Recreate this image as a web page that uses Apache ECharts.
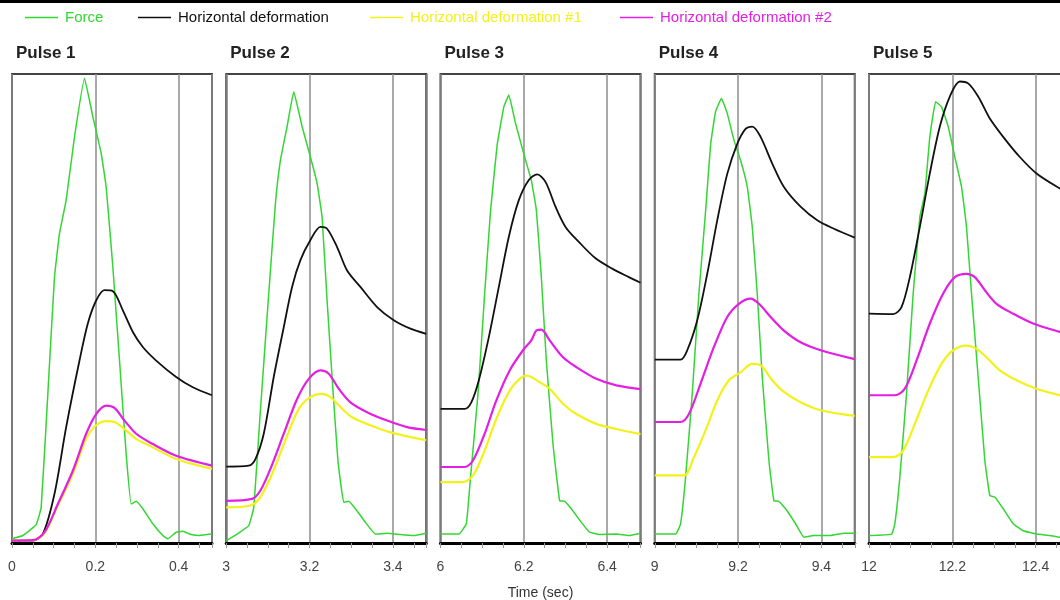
<!DOCTYPE html>
<html>
<head>
<meta charset="utf-8">
<script src="https://cdn.jsdelivr.net/npm/echarts@6/dist/echarts.min.js"></script>
<style>html,body{margin:0;padding:0;background:#fff;}#c{width:1060px;height:600px;}</style>
</head>
<body>
<div id="c"></div>
<script>
// ---- data (time in sec, relative amplitude 0-100) ----
const pulseTitles = ['Pulse 1','Pulse 2','Pulse 3','Pulse 4','Pulse 5'];
const pulseStarts = [0, 3, 6, 9, 12];
const pulseSpan = 0.48;
const seriesNames = ['Force','Horizontal deformation','Horizontal deformation #1','Horizontal deformation #2'];

const force1 = [[0,0.9],[0.026,1.6],[0.058,3.9],[0.07,7.6],[0.086,31.8],[0.102,56.7],[0.114,66],[0.13,73.1],[0.15,86.6],[0.174,99.1],[0.194,90.9],[0.214,83.1],[0.226,75.9],[0.242,58.9],[0.258,38.9],[0.274,19],[0.286,8.3],[0.298,8.9],[0.314,7.3],[0.338,4.1],[0.362,1.6],[0.374,0.9],[0.394,2.3],[0.41,2.5],[0.43,1.8],[0.45,1.6],[0.48,1.9]];
const horiz1 = [[0,0.5],[0.05,0.5],[0.074,1.9],[0.102,10.5],[0.13,24.7],[0.162,38.9],[0.182,46.8],[0.202,51.7],[0.222,53.9],[0.242,53.7],[0.266,49.6],[0.29,45],[0.314,41.8],[0.346,38.9],[0.394,35.4],[0.434,33.2],[0.48,31.5]];
const horizA1 = [[0,0.5],[0.05,0.6],[0.078,2.1],[0.11,8],[0.146,14.7],[0.178,22.2],[0.202,25.1],[0.226,26],[0.246,25.8],[0.27,24.3],[0.298,22.2],[0.338,20.4],[0.394,17.9],[0.48,15.8]];
const horizB1 = [[0,0.5],[0.05,0.6],[0.078,2.3],[0.11,8.3],[0.146,15.4],[0.178,23.3],[0.202,27.5],[0.226,29.3],[0.246,28.8],[0.27,26.1],[0.298,23.3],[0.338,21.1],[0.394,18.6],[0.48,16.5]];

const force2 = [[3,0.5],[3.026,1.9],[3.054,3.7],[3.066,7.6],[3.082,28.3],[3.102,53.2],[3.118,72.4],[3.13,81.6],[3.146,88.8],[3.162,96.2],[3.182,88.8],[3.202,82.3],[3.218,76.7],[3.23,69.5],[3.242,51.7],[3.254,35.4],[3.268,17.6],[3.282,8.7],[3.294,8.9],[3.31,7.3],[3.334,4.4],[3.358,1.9],[3.386,2.1],[3.418,1.8],[3.45,1.6],[3.48,2.1]];
const horiz2 = [[3,16.3],[3.054,16.5],[3.07,17.9],[3.09,23.3],[3.114,35.4],[3.138,46],[3.158,54.6],[3.178,60.3],[3.202,64.6],[3.226,67.4],[3.242,67],[3.266,63.1],[3.29,58.1],[3.322,54.6],[3.362,50.3],[3.402,47.5],[3.442,45.7],[3.48,44.6]];
const horizA2 = [[3,7.6],[3.058,8],[3.082,9.8],[3.11,14.7],[3.142,21.9],[3.174,28.6],[3.202,31.1],[3.23,31.8],[3.25,31.1],[3.274,29],[3.302,26.8],[3.346,25.1],[3.394,23.6],[3.48,21.9]];
const horizB2 = [[3,9],[3.062,9.4],[3.082,11.2],[3.106,15.8],[3.138,23.3],[3.17,30.7],[3.198,35],[3.226,36.8],[3.246,36.1],[3.27,32.9],[3.298,30],[3.338,27.9],[3.386,26.1],[3.434,24.7],[3.48,24.1]];

const force3 = [[6,1.9],[6.044,1.9],[6.062,4.1],[6.072,14],[6.09,31.8],[6.106,53.2],[6.12,70.7],[6.136,84.9],[6.152,93],[6.164,95.5],[6.18,89.5],[6.202,82.3],[6.218,77.3],[6.23,71],[6.242,56.7],[6.254,38.9],[6.27,21.1],[6.286,9],[6.298,8.9],[6.314,7.3],[6.338,4.4],[6.358,2.3],[6.382,1.8],[6.422,1.9],[6.452,1.6],[6.48,2.1]];
const horiz3 = [[6,28.6],[6.058,28.6],[6.074,30],[6.092,34.7],[6.116,43.9],[6.14,54.6],[6.164,65.3],[6.188,73.1],[6.212,77.4],[6.232,78.6],[6.252,77],[6.276,71.7],[6.3,67.4],[6.332,64.2],[6.372,60.7],[6.412,58.5],[6.452,56.7],[6.48,55.5]];
const horizA3 = [[6,13],[6.054,13],[6.078,14.4],[6.106,19.7],[6.134,26.5],[6.166,32.5],[6.19,35],[6.206,35.7],[6.218,35.4],[6.238,34.3],[6.262,32.9],[6.294,29.7],[6.326,27.5],[6.374,25.4],[6.422,24.3],[6.48,23.2]];
const horizB3 = [[6,16.2],[6.058,16.2],[6.078,17.6],[6.106,23.3],[6.134,30.4],[6.166,36.8],[6.198,41.1],[6.218,43.2],[6.23,45.3],[6.242,45.5],[6.262,43.2],[6.294,39.6],[6.326,37.5],[6.374,35],[6.422,33.6],[6.48,32.8]];

const force4 = [[9,1.9],[9.05,1.9],[9.062,4.1],[9.074,14],[9.09,31.8],[9.106,53.2],[9.122,70.7],[9.134,84.9],[9.146,92],[9.16,94.8],[9.174,91.6],[9.19,85.9],[9.206,81.6],[9.222,76],[9.234,67.4],[9.246,53.2],[9.258,35.4],[9.274,17.6],[9.286,9],[9.298,8.9],[9.314,7.3],[9.338,4.1],[9.358,1.2],[9.382,1.6],[9.422,1.6],[9.454,2.1],[9.48,2.1]];
const horiz4 = [[9,39.1],[9.062,39.1],[9.078,41.1],[9.102,47.5],[9.126,57.4],[9.15,68.8],[9.174,78.7],[9.198,85.1],[9.218,88.3],[9.234,88.8],[9.254,86.6],[9.282,80.9],[9.31,75.9],[9.35,71.7],[9.39,68.8],[9.43,67],[9.48,65.1]];
const horizA4 = [[9,14.4],[9.07,14.4],[9.094,18.3],[9.122,24],[9.15,30.4],[9.178,34.7],[9.206,36.4],[9.234,38.2],[9.254,37.9],[9.282,34.7],[9.31,32.2],[9.35,30],[9.398,28.3],[9.48,27.1]];
const horizB4 = [[9,25.8],[9.062,25.8],[9.082,27.5],[9.11,34],[9.142,41.8],[9.174,48.2],[9.202,51],[9.23,52.1],[9.25,51],[9.278,48.2],[9.31,45.3],[9.35,42.8],[9.398,41.1],[9.48,39.2]];

const force5 = [[12,1.6],[12.054,1.9],[12.062,4.1],[12.074,14],[12.09,31.8],[12.106,53.2],[12.122,69.5],[12.134,74.5],[12.146,86.6],[12.16,94.1],[12.174,93],[12.19,88.8],[12.206,82.3],[12.222,76],[12.234,67.4],[12.246,53.2],[12.262,35.4],[12.278,17.6],[12.29,10.1],[12.302,9.8],[12.322,7.3],[12.346,4.1],[12.37,2.6],[12.402,1.9],[12.434,1.6],[12.458,1.2],[12.48,1.2]];
const horiz5 = [[12,48.9],[12.058,48.8],[12.078,50.3],[12.098,56.7],[12.122,67.4],[12.146,78.8],[12.17,88.8],[12.194,95.2],[12.218,98.4],[12.238,98],[12.262,95.2],[12.29,90.5],[12.322,86.6],[12.362,82.3],[12.402,78.8],[12.458,75.6],[12.48,74.6]];
const horizA5 = [[12,18.3],[12.058,18.3],[12.082,19.7],[12.11,25.4],[12.142,32.5],[12.174,38.2],[12.202,41.1],[12.234,42.1],[12.258,41.4],[12.282,39.6],[12.314,36.8],[12.354,34.7],[12.402,32.9],[12.458,31.5],[12.48,31]];
const horizB5 = [[12,31.5],[12.062,31.5],[12.086,32.9],[12.114,38.9],[12.146,46.8],[12.178,53.2],[12.206,56.7],[12.234,57.4],[12.254,56.7],[12.278,53.9],[12.306,51],[12.346,48.9],[12.394,46.8],[12.458,45],[12.48,44.5]];

const forceData = [force1, force2, force3, force4, force5];
const horizData = [horiz1, horiz2, horiz3, horiz4, horiz5];
const horizAData = [horizA1, horizA2, horizA3, horizA4, horizA5];
const horizBData = [horizB1, horizB2, horizB3, horizB4, horizB5];

// ---- styling ----
const colors = ['#33d633', '#111111', '#f2f21a', '#e31fe3'];
const widths = [1.5, 1.8, 2.2, 2.2];
const smooths = [0.1, 0.3, 0.3, 0.3];
const FONT = 'Liberation Sans, Arial, sans-serif';

const chart = echarts.init(document.getElementById('c'), null, {renderer: 'canvas'});

const grids = [], xAxes = [], yAxes = [], series = [], titles = [];
const gridTop = 74, gridHeight = 469, gridWidth = 200, gridStep = 214.25, gridLeft0 = 12;
const series4 = [forceData, horizData, horizAData, horizBData];

pulseStarts.forEach((s, i) => {
  const left = gridLeft0 + gridStep * i;
  grids.push({left: left, top: gridTop, width: gridWidth, height: gridHeight,
    show: true, borderColor: '#444', borderWidth: 2, backgroundColor: '#fff',
    containLabel: false, outerBoundsMode: 'none'});
  xAxes.push({
    gridIndex: i, type: 'value', position: 'bottom', min: s, max: s + pulseSpan, interval: 0.2,
    axisLine: {show: true, onZero: false, lineStyle: {color: '#000', width: 3}},
    axisTick: {show: false},
    axisLabel: {show: true, margin: 17, color: '#444', fontSize: 14, fontFamily: FONT, showMaxLabel: false, showMinLabel: true},
    splitLine: {show: true, lineStyle: {color: '#8c8c8c', width: 1.5}},
    name: i === 2 ? 'Time (sec)' : '', nameLocation: 'middle', nameGap: 43,
    nameTextStyle: {color: '#333', fontSize: 14, fontFamily: FONT}
  });
  yAxes.push({gridIndex: i, type: 'value', min: 0, max: 100, show: false});
  titles.push({text: pulseTitles[i], left: left - 1, top: 40,
    textStyle: {fontSize: 17, fontWeight: 'bold', color: '#222', fontFamily: FONT}});
  series4.forEach((arr, k) => {
    series.push({
      name: seriesNames[k], type: 'line', xAxisIndex: i, yAxisIndex: i,
      data: arr[i], symbol: 'none', showSymbol: false,
      smooth: smooths[k],
      lineStyle: {color: colors[k], width: widths[k]}, itemStyle: {color: colors[k]},
      z: 2 + k, clip: true
    });
  });
});
// minor tick axes (every 0.05 s)
pulseStarts.forEach((s, i) => {
  xAxes.push({
    gridIndex: i, type: 'value', position: 'bottom', min: s, max: s + pulseSpan, interval: 0.05,
    axisLine: {show: false}, axisLabel: {show: false}, splitLine: {show: false},
    axisTick: {show: true, length: 5, lineStyle: {color: '#9a9a9a', width: 1}}
  });
});

const legendLefts = [20, 133, 365, 615];
const legends = seriesNames.map((n, k) => ({
  left: legendLefts[k], top: 5, icon: 'rect', itemWidth: 33, itemHeight: 1.6, itemGap: 6,
  data: [{name: n, textStyle: {color: colors[k]}}],
  textStyle: {fontSize: 15, fontFamily: FONT, padding: [0, 0, 0, 2]},
  selectedMode: false
}));

chart.setOption({
  animation: false,
  backgroundColor: '#fff',
  title: titles,
  legend: legends,
  grid: grids,
  xAxis: xAxes,
  yAxis: yAxes,
  series: series,
  graphic: [{type: 'rect', left: 0, top: 0, shape: {width: 1060, height: 3}, style: {fill: '#000'}, silent: true}]
});
</script>
</body>
</html>
